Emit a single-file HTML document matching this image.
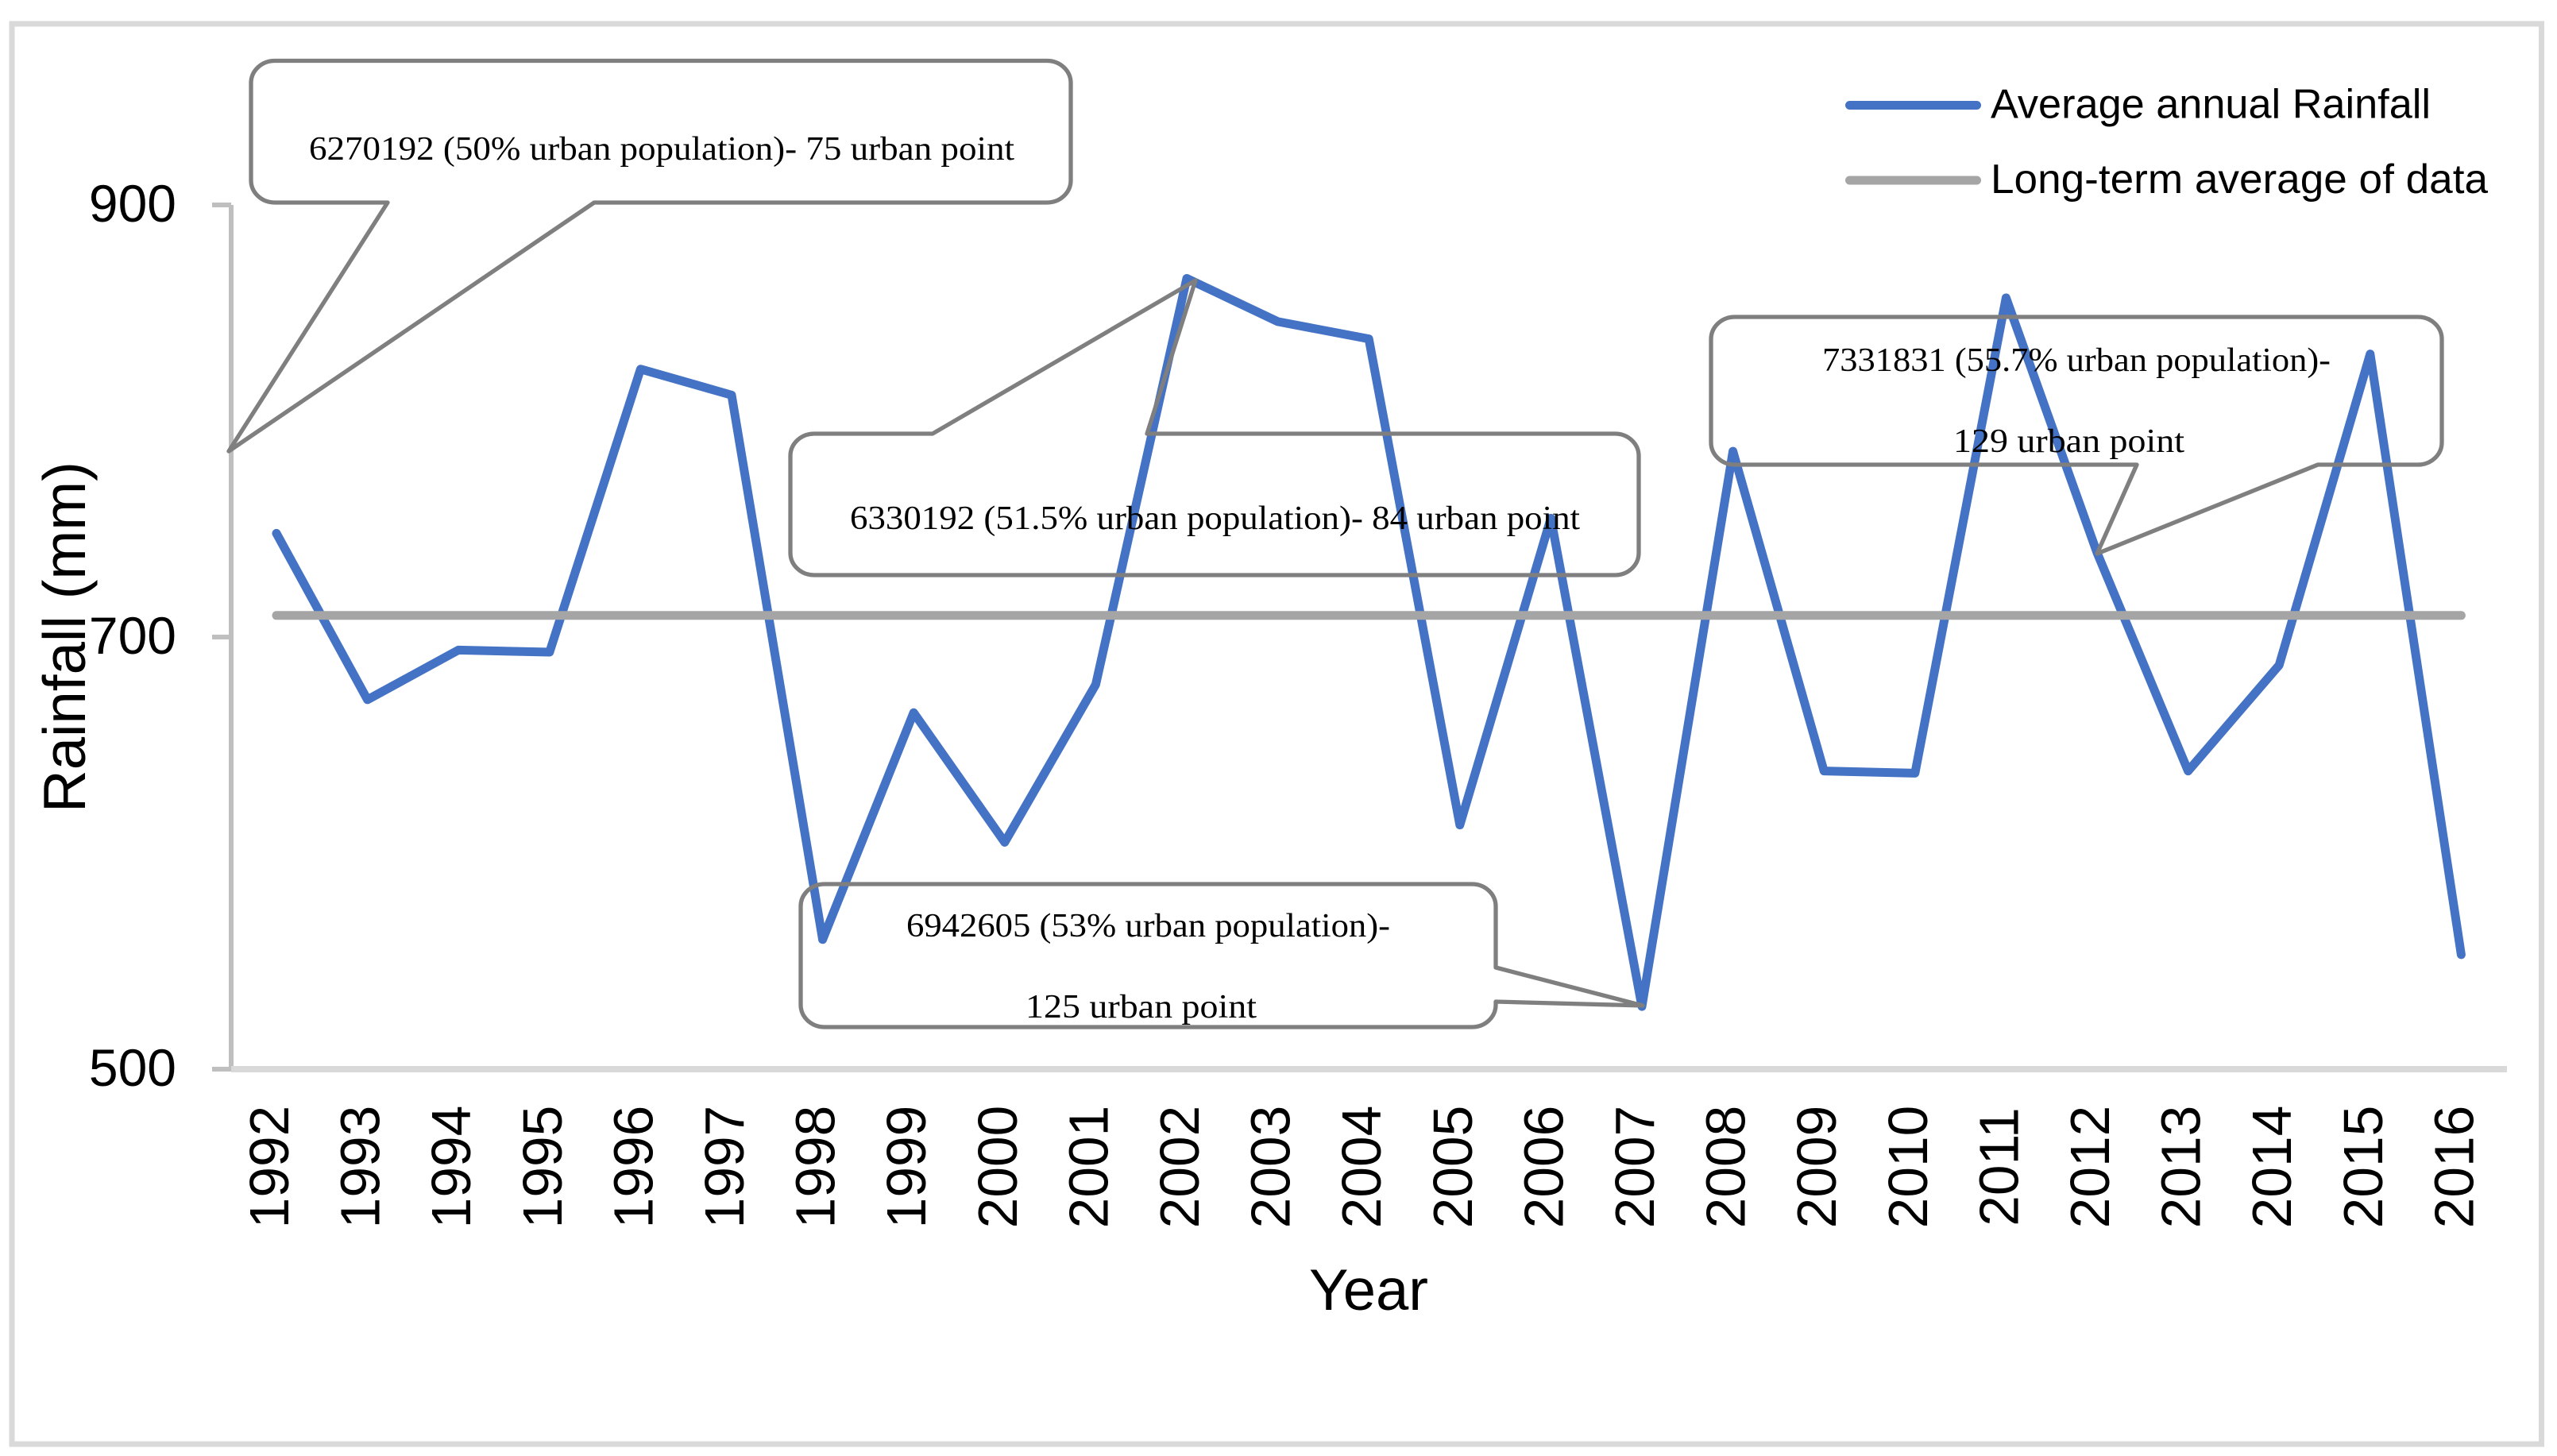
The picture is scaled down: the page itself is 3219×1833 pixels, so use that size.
<!DOCTYPE html>
<html lang="en">
<head>
<meta charset="utf-8">
<title>Average annual rainfall chart</title>
<style>
  html, body { margin: 0; padding: 0; background: #fff; }
  svg { display: block; }
  .sans { font-family: "Liberation Sans", sans-serif; fill: #000; }
  .serif { font-family: "Liberation Serif", serif; fill: #000; font-size: 42px; }
  .callout { fill: none; stroke: #7f7f7f; stroke-width: 5.3; stroke-linejoin: round; }
</style>
</head>
<body>
<svg xmlns="http://www.w3.org/2000/svg" width="3219" height="1833" viewBox="0 0 3219 1833">
  <rect x="0" y="0" width="3219" height="1833" fill="#ffffff"/>
  <rect x="15" y="30" width="3184.5" height="1788" fill="#ffffff" stroke="#d9d9d9" stroke-width="7"/>

  <g id="axes"></g>
  <g id="series"></g>

  <text class="sans" font-size="75" transform="translate(107,1023) rotate(-90)" textLength="442" lengthAdjust="spacingAndGlyphs">Rainfall (mm)</text>
  <text class="sans" x="1648" y="1649" font-size="73" textLength="150" lengthAdjust="spacingAndGlyphs">Year</text>

  <g>
    <g>
      <line x1="2328.5" y1="132.5" x2="2488.5" y2="132.5" stroke="#4472c4" stroke-width="11" stroke-linecap="round"/>
      <text class="sans" x="2506" y="148.5" font-size="52" textLength="554" lengthAdjust="spacingAndGlyphs">Average annual Rainfall</text>
    </g>
    <g>
      <line x1="2328.5" y1="227" x2="2488.5" y2="227" stroke="#a5a5a5" stroke-width="11" stroke-linecap="round"/>
      <text class="sans" x="2506" y="243" font-size="52" textLength="626" lengthAdjust="spacingAndGlyphs">Long-term average of data</text>
    </g>
  </g>

  <g>
    <path class="callout" d="M346,76.5 H1318 A30,28 0 0 1 1348,104.5 V227 A30,28 0 0 1 1318,255 H748 L288,568 L488,255 H346 A30,28 0 0 1 316,227 V104.5 A30,28 0 0 1 346,76.5 Z"/>
    <text class="serif" x="389" y="201" textLength="888" lengthAdjust="spacingAndGlyphs">6270192 (50% urban population)- 75 urban point</text>
  </g>
  <g>
    <path class="callout" d="M1025,546 H1174 L1505,353 L1444,546 H2033 A30,28 0 0 1 2063,574 V696 A30,28 0 0 1 2033,724 H1025 A30,28 0 0 1 995,696 V574 A30,28 0 0 1 1025,546 Z"/>
    <text class="serif" x="1070" y="666" textLength="919" lengthAdjust="spacingAndGlyphs">6330192 (51.5% urban population)- 84 urban point</text>
  </g>
  <g>
    <path class="callout" d="M1038,1113 H1853 A30,28 0 0 1 1883,1141 V1218 L2068,1266 L1883,1261 V1265 A30,28 0 0 1 1853,1293 H1038 A30,28 0 0 1 1008,1265 V1141 A30,28 0 0 1 1038,1113 Z"/>
    <text class="serif" x="1141" y="1179" textLength="609" lengthAdjust="spacingAndGlyphs">6942605 (53% urban population)-</text>
    <text class="serif" x="1291" y="1281" textLength="291" lengthAdjust="spacingAndGlyphs">125 urban point</text>
  </g>
  <g>
    <path class="callout" d="M2184,399 H3044 A30,28 0 0 1 3074,427 V557 A30,28 0 0 1 3044,585 H2918 L2640,697 L2690,585 H2184 A30,28 0 0 1 2154,557 V427 A30,28 0 0 1 2184,399 Z"/>
    <text class="serif" x="2294" y="467" textLength="640" lengthAdjust="spacingAndGlyphs">7331831 (55.7% urban population)-</text>
    <text class="serif" x="2459" y="569" textLength="291" lengthAdjust="spacingAndGlyphs">129 urban point</text>
  </g>
</svg>

<script>
const categories = [1992,1993,1994,1995,1996,1997,1998,1999,2000,2001,2002,2003,2004,2005,2006,2007,2008,2009,2010,2011,2012,2013,2014,2015,2016];
const rainfallValues = [748,671,694,693,824,812,560,665,605,678,866,846,838,613,755,529,786,638,637,857,739,638,687,831,553];
const averageValues = [710,710,710,710,710,710,710,710,710,710,710,710,710,710,710,710,710,710,710,710,710,710,710,710,710];
const yTickLabels = [500,700,900];

const NS = 'http://www.w3.org/2000/svg';
const axesGroup = document.getElementById('axes');
const seriesGroup = document.getElementById('series');

function xScale(index) { return 348 + index * 114.6; }
function yScale(value) { return 1346 - (value - 500) * 2.72; }

function makeLine(x1, y1, x2, y2, stroke, width) {
  const el = document.createElementNS(NS, 'line');
  el.setAttribute('x1', x1);
  el.setAttribute('y1', y1);
  el.setAttribute('x2', x2);
  el.setAttribute('y2', y2);
  el.setAttribute('stroke', stroke);
  el.setAttribute('stroke-width', width);
  return el;
}

const yAxisLine = makeLine(291, yScale(yTickLabels[yTickLabels.length - 1]), 291, yScale(yTickLabels[0]), '#bfbfbf', 6);


axesGroup.appendChild(yAxisLine);

yTickLabels.forEach(function (tick) {
  const mark = makeLine(267, yScale(tick), 291, yScale(tick), '#bfbfbf', 6);
  
  
  axesGroup.appendChild(mark);

  const label = document.createElementNS(NS, 'text');
  label.setAttribute('class', 'sans');
  label.setAttribute('x', 222);
  label.setAttribute('y', yScale(tick) + 21);
  label.setAttribute('font-size', 66);
  label.setAttribute('text-anchor', 'end');
  label.textContent = String(tick);
  
  
  axesGroup.appendChild(label);
});

const xAxisLine = makeLine(291, yScale(yTickLabels[0]), 3156, yScale(yTickLabels[0]), '#d9d9d9', 8);


axesGroup.appendChild(xAxisLine);

categories.forEach(function (year, i) {
  const label = document.createElementNS(NS, 'text');
  label.setAttribute('class', 'sans');
  label.setAttribute('font-size', 69.5);
  label.setAttribute('text-anchor', 'middle');
  label.setAttribute('transform', 'translate(' + (xScale(i) + 15) + ',1469) rotate(-90)');
  label.textContent = String(year);
  
  
  axesGroup.appendChild(label);
});

function makeSeries(values, stroke, width) {
  const points = values.map(function (v, i) { return xScale(i) + ',' + yScale(v); }).join(' ');
  const el = document.createElementNS(NS, 'polyline');
  el.setAttribute('points', points);
  el.setAttribute('fill', 'none');
  el.setAttribute('stroke', stroke);
  el.setAttribute('stroke-width', width);
  el.setAttribute('stroke-linecap', 'round');
  el.setAttribute('stroke-linejoin', 'round');
  return el;
}

const rainfallLine = makeSeries(rainfallValues, '#4472c4', 11);


seriesGroup.appendChild(rainfallLine);

const averageLine = makeSeries(averageValues, '#a5a5a5', 11);


seriesGroup.appendChild(averageLine);
</script>
</body>
</html>
